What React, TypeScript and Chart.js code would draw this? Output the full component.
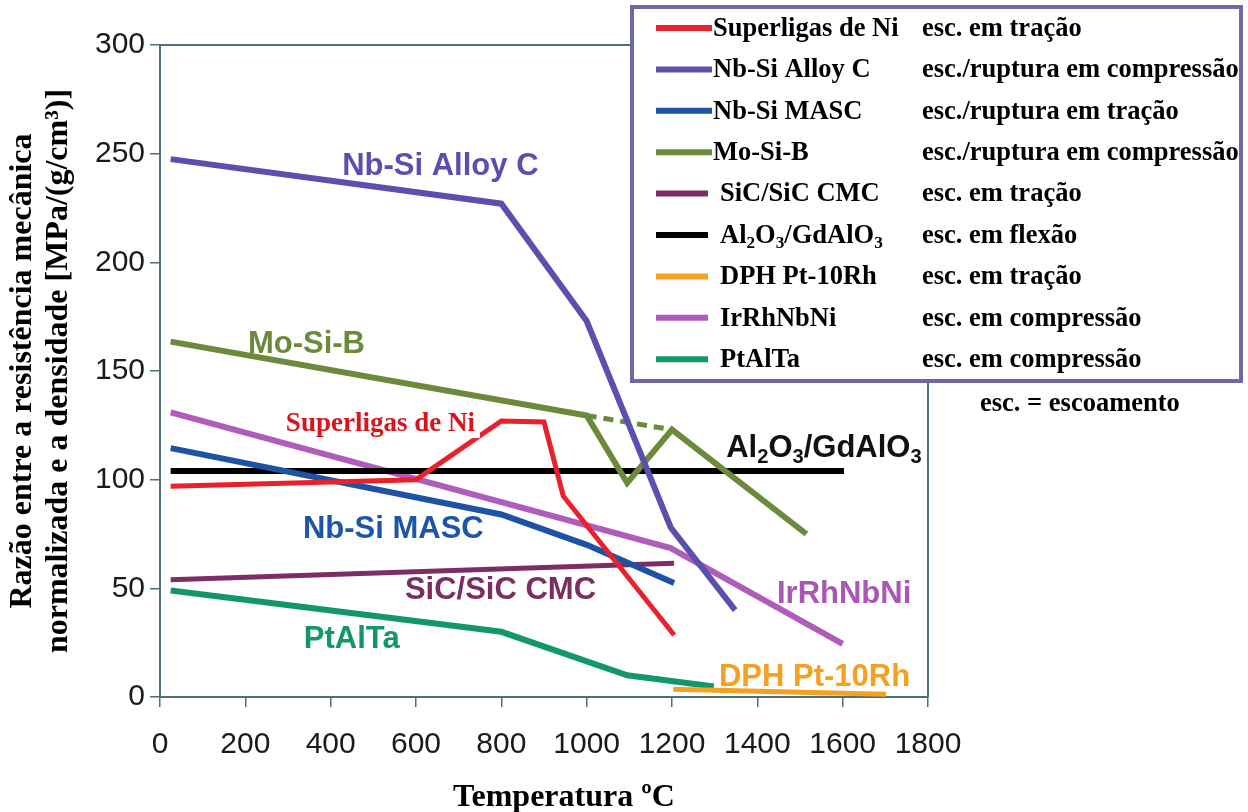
import React, { useEffect, useRef } from 'react';
import { Chart, registerables } from 'chart.js';

Chart.register(...registerables);

const SANS = '"Liberation Sans", Arial, Helvetica, sans-serif';
const SERIF = '"Liberation Serif", "Times New Roman", Times, serif';
const AXIS = '#4e7177';

// ---- categories / legend ----
const seriesNames = [
  'Superligas de Ni',
  'Nb-Si Alloy C',
  'Nb-Si MASC',
  'Mo-Si-B',
  'SiC/SiC CMC',
  'Al₂O₃/GdAlO₃',
  'DPH Pt-10Rh',
  'IrRhNbNi',
  'PtAlTa',
];
const seriesDescriptions = [
  'esc. em tração',
  'esc./ruptura em compressão',
  'esc./ruptura em tração',
  'esc./ruptura em compressão',
  'esc. em tração',
  'esc. em flexão',
  'esc. em tração',
  'esc. em compressão',
  'esc. em compressão',
];
const seriesColors = [
  '#e8212a',
  '#5b50ad',
  '#1d52a6',
  '#6b8a3c',
  '#7c2d64',
  '#000000',
  '#f6a11f',
  '#b05cbb',
  '#11976a',
];
const seriesWidths = [5, 6, 6, 6, 5, 6, 5, 6, 6];

// ---- series values (temperature °C, strength/density) ----
const superligasX = [25, 600, 800, 900, 945, 1205];
const superligasY = [97, 100, 127, 126.5, 92.5, 28.5];
const alloyCX = [25, 800, 1000, 1197, 1348];
const alloyCY = [247.5, 227, 173, 78, 40];
const mascX = [25, 800, 1000, 1205];
const mascY = [114.5, 84, 70, 52.5];
const moSiBX = [25, 1000, 1095, 1200, 1515];
const moSiBY = [163.5, 129.5, 98.5, 123, 75];
const moSiBDashedX = [1000, 1200];
const moSiBDashedY = [129.5, 123];
const sicX = [25, 1205];
const sicY = [54, 61.5];
const aluminaX = [25, 1603];
const aluminaY = [104, 104];
const dphX = [1203, 1702];
const dphY = [3.6, 1.3];
const irRhX = [25, 1197, 1600];
const irRhY = [131, 68.5, 24.5];
const ptAlTaX = [25, 800, 1095, 1298];
const ptAlTaY = [49, 30, 10, 4.8];

const seriesX = [superligasX, alloyCX, mascX, moSiBX, sicX, aluminaX, dphX, irRhX, ptAlTaX];
const seriesY = [superligasY, alloyCY, mascY, moSiBY, sicY, aluminaY, dphY, irRhY, ptAlTaY];

// ---- tick labels ----
const xTicks = [0, 200, 400, 600, 800, 1000, 1200, 1400, 1600, 1800];
const yTicks = [0, 50, 100, 150, 200, 250, 300];

// ---- titles ----
const xTitle = 'Temperatura ºC';
const yTitleLines = ['Razão entre a resistência mecânica', 'normalizada e a densidade [MPa/(g/cm³)]'];
const footnote = 'esc. = escoamento';

// ---- in-chart labels (anchored in data coordinates: left x, middle y) ----
const labelTexts = ['Nb-Si Alloy C', 'Mo-Si-B', 'Superligas de Ni', 'Al₂O₃/GdAlO₃', 'Nb-Si MASC', 'SiC/SiC CMC', 'IrRhNbNi', 'PtAlTa', 'DPH Pt-10Rh'];
const labelX = [427, 206, 295, 1327, 335, 574, 1446, 337, 1310];
const labelY = [245.3, 163.3, 126.5, 115.5, 78.2, 50.2, 48.3, 27.6, 10.1];
const labelColors = ['#5a4fae', '#6b8a3c', '#d9141c', '#111111', '#1d55a8', '#7b2d63', '#aa56b5', '#129868', '#f5a01f'];

type Run = { t: string; sub: boolean };
function toRuns(text: string): Run[] {
  const runs: Run[] = [];
  for (const ch of Array.from(text)) {
    const code = ch.charCodeAt(0);
    const sub = code >= 0x2080 && code <= 0x2089;
    const c = sub ? String.fromCharCode(code - 0x2080 + 48) : ch;
    const last = runs[runs.length - 1];
    if (last && last.sub === sub) last.t += c;
    else runs.push({ t: c, sub });
  }
  return runs;
}
function measureRich(ctx: CanvasRenderingContext2D, text: string, size: number, family: string, weight: string) {
  let w = 0;
  for (const r of toRuns(text)) {
    ctx.font = `${weight} ${r.sub ? size * 0.65 : size}px ${family}`;
    w += ctx.measureText(r.t).width;
  }
  return w;
}
function drawRich(
  ctx: CanvasRenderingContext2D,
  text: string,
  x: number,
  cy: number,
  size: number,
  family: string,
  weight: string,
  color: string,
  align: 'left' | 'center' = 'left',
  capRatio = 0.35,
) {
  ctx.save();
  const w = measureRich(ctx, text, size, family, weight);
  let cx = align === 'center' ? x - w / 2 : x;
  ctx.fillStyle = color;
  ctx.textAlign = 'left';
  ctx.textBaseline = 'alphabetic';
  const base = cy + size * capRatio;
  for (const r of toRuns(text)) {
    const s = r.sub ? size * 0.65 : size;
    ctx.font = `${weight} ${s}px ${family}`;
    ctx.fillText(r.t, cx, r.sub ? base + size * 0.2 : base);
    cx += ctx.measureText(r.t).width;
  }
  ctx.restore();
  return w;
}

const overlayPlugin = {
  id: 'overlay',
  beforeDatasetsDraw(chart: any) {
    const { ctx, chartArea: a } = chart;
    ctx.save();
    ctx.strokeStyle = AXIS;
    ctx.lineWidth = 2;
    ctx.beginPath();
    ctx.moveTo(a.left, a.top);
    ctx.lineTo(a.right, a.top);
    ctx.lineTo(a.right, a.bottom);
    ctx.stroke();
    ctx.restore();
  },
  afterDatasetsDraw(chart: any) {
    const ctx: CanvasRenderingContext2D = chart.ctx;
    const xs = chart.scales.x;
    const ys = chart.scales.y;

    // in-chart labels
    labelTexts.forEach((t, i) => {
      const px = xs.getPixelForValue(labelX[i]);
      const py = ys.getPixelForValue(labelY[i]);
      if (t === 'Superligas de Ni') {
        const w = measureRich(ctx, t, 27, SERIF, 'bold');
        ctx.save();
        ctx.fillStyle = '#ffffff';
        ctx.fillRect(px - 3, py - 14, w + 8, 30);
        ctx.restore();
        drawRich(ctx, t, px, py, 27, SERIF, 'bold', labelColors[i], 'left', 0.33);
      } else {
        drawRich(ctx, t, px, py, 31, SANS, 'bold', labelColors[i], 'left', 0.36);
      }
    });

    // legend box
    ctx.save();
    ctx.fillStyle = '#ffffff';
    ctx.fillRect(632, 7, 609, 374);
    ctx.strokeStyle = '#6e68a5';
    ctx.lineWidth = 4;
    ctx.strokeRect(632, 7, 609, 374);
    ctx.restore();
    seriesNames.forEach((name, i) => {
      const cy = 27 + i * 41.4;
      ctx.save();
      ctx.strokeStyle = seriesColors[i];
      ctx.lineWidth = 6;
      ctx.beginPath();
      ctx.moveTo(656, cy + 1);
      ctx.lineTo(i < 4 ? 712 : 708, cy + 1);
      ctx.stroke();
      ctx.restore();
      drawRich(ctx, name, i < 4 ? 713 : 720, cy, 26.5, SERIF, 'bold', '#000', 'left', 0.33);
      drawRich(ctx, seriesDescriptions[i], 922, cy, 26.5, SERIF, 'bold', '#000', 'left', 0.33);
    });
    drawRich(ctx, footnote, 980, 402, 26.5, SERIF, 'bold', '#000', 'left', 0.33);

    // x axis title
    drawRich(ctx, xTitle, 564, 795, 32, SERIF, 'bold', '#000', 'center', 0.33);
  },
};

export default function App() {
  const ref = useRef<HTMLCanvasElement>(null);
  useEffect(() => {
    document.body.style.margin = '0';
    const datasets: any[] = seriesNames.map((name, i) => ({
      label: name,
      data: seriesX[i].map((x, j) => ({ x, y: seriesY[i][j] })),
      borderColor: seriesColors[i],
      backgroundColor: seriesColors[i],
      borderWidth: seriesWidths[i],
      pointRadius: 0,
      pointHoverRadius: 0,
      tension: 0,
      fill: false,
      borderJoinStyle: 'miter',
      borderCapStyle: 'butt',
    }));
    datasets.push({
      label: 'Mo-Si-B (extrapolado)',
      data: moSiBDashedX.map((x, j) => ({ x, y: moSiBDashedY[j] })),
      borderColor: seriesColors[3],
      borderWidth: 5,
      borderDash: [10, 7],
      pointRadius: 0,
      fill: false,
    });
    const chart = new Chart(ref.current as HTMLCanvasElement, {
      type: 'line',
      data: { datasets },
      options: {
        responsive: false,
        devicePixelRatio: 1,
        animation: false,
        layout: { padding: { left: 0, top: 45, right: 320, bottom: 0 } },
        plugins: { legend: { display: false }, tooltip: { enabled: false }, title: { display: false } },
        scales: {
          x: {
            type: 'linear',
            min: 0,
            max: 1800,
            afterBuildTicks: (s: any) => {
              s.ticks = xTicks.map((v) => ({ value: v }));
            },
            afterFit: (s: any) => {
              s.height = 115;
            },
            ticks: {
              font: { family: SANS, size: 30 },
              color: '#1a1a1a',
              padding: 20,
              autoSkip: false,
              maxRotation: 0,
              callback: (v: any) => String(v),
            },
            grid: { display: true, drawOnChartArea: false, drawTicks: true, tickLength: 10, color: AXIS, lineWidth: 1.5 },
            border: { display: true, color: AXIS, width: 2 },
          },
          y: {
            type: 'linear',
            min: 0,
            max: 300,
            afterBuildTicks: (s: any) => {
              s.ticks = yTicks.map((v) => ({ value: v }));
            },
            afterFit: (s: any) => {
              s.width = 160;
            },
            ticks: {
              font: { family: SANS, size: 30 },
              color: '#1a1a1a',
              padding: 5,
              callback: (v: any) => String(v),
            },
            grid: { display: true, drawOnChartArea: false, drawTicks: true, tickLength: 10, color: AXIS, lineWidth: 1.5 },
            border: { display: true, color: AXIS, width: 2 },
            title: {
              display: true,
              text: yTitleLines,
              color: '#000',
              font: { family: SERIF, size: 32, weight: 'bold', lineHeight: 1.15 },
              padding: { top: 4, bottom: 0 },
            },
          },
        },
      },
      plugins: [overlayPlugin],
    });
    return () => chart.destroy();
  }, []);
  return (
    <div style={{ position: 'absolute', left: 0, top: 0, width: 1248, height: 812, background: '#fff' }}>
      <canvas ref={ref} width={1248} height={812} style={{ display: 'block', width: 1248, height: 812 }} />
    </div>
  );
}
